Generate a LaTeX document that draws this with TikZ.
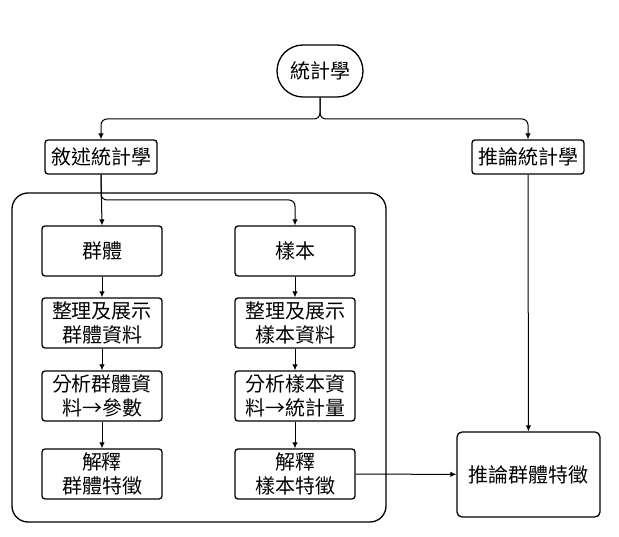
\documentclass[tikz,border=0pt]{standalone}
\usepackage{fontspec}
\setmainfont{Noto Sans CJK TC}
\usetikzlibrary{arrows.meta}
\begin{document}
\begin{tikzpicture}[x=1pt,y=-1pt,
  every node/.style={font=\fontsize{20}{24}\selectfont, inner sep=0pt, align=center},
  box/.style={draw, line width=1.3pt, rounded corners=3pt},
  stepbox/.style={box, minimum width=120pt, minimum height=50pt},
  conn/.style={line width=1pt, -{Latex[length=6pt,width=5.5pt]}},
  junc/.style={line width=1pt, rounded corners=6pt}
]
\useasboundingbox (0,0) rectangle (619,537);
\node[draw, line width=1.3pt, rounded corners=26pt, minimum width=86pt, minimum height=52pt] (stat) at (320,71) {統計學};
\node[box, minimum width=112pt, minimum height=34pt] (desc) at (101,157) {敘述統計學};
\node[box, minimum width=112pt, minimum height=34pt] (infer) at (528,157) {推論統計學};
\node[draw, line width=1.3pt, rounded corners=16pt, minimum width=374pt, minimum height=329pt] (frame) at (199,357.5) {};
\node[stepbox] (grp) at (102,251) {群體};
\node[stepbox] (smp) at (295,251) {樣本};
\node[stepbox] (g2) at (102,323) {整理及展示\\群體資料};
\node[stepbox] (s2) at (295,323) {整理及展示\\樣本資料};
\node[stepbox] (g3) at (102,396) {分析群體資\\料→參數};
\node[stepbox] (s3) at (295,396) {分析樣本資\\料→統計量};
\node[stepbox] (g4) at (102,474) {解釋\\群體特徵};
\node[stepbox] (s4) at (295,474) {解釋\\樣本特徵};
\node[box, rounded corners=5pt, minimum width=143pt, minimum height=85pt] (inf) at (528.5,474.5) {推論群體特徵};
\coordinate (j1) at (320,119);
\coordinate (j2) at (101,200);
\draw[conn, junc] (stat.south) |- (j1) -| (desc.north);
\draw[conn, junc] (stat.south) |- (j1) -| (infer.north);
\draw[conn] (desc.south) -- (grp.north);
\draw[conn, junc] (desc.south) |- (j2) -| (smp.north);
\draw[conn] (grp) -- (g2);
\draw[conn] (g2) -- (g3);
\draw[conn] (g3) -- (g4);
\draw[conn] (smp) -- (s2);
\draw[conn] (s2) -- (s3);
\draw[conn] (s3) -- (s4);
\draw[conn] (s4) -- (inf);
\draw[conn] (infer) -- (inf);
\end{tikzpicture}
\end{document}
